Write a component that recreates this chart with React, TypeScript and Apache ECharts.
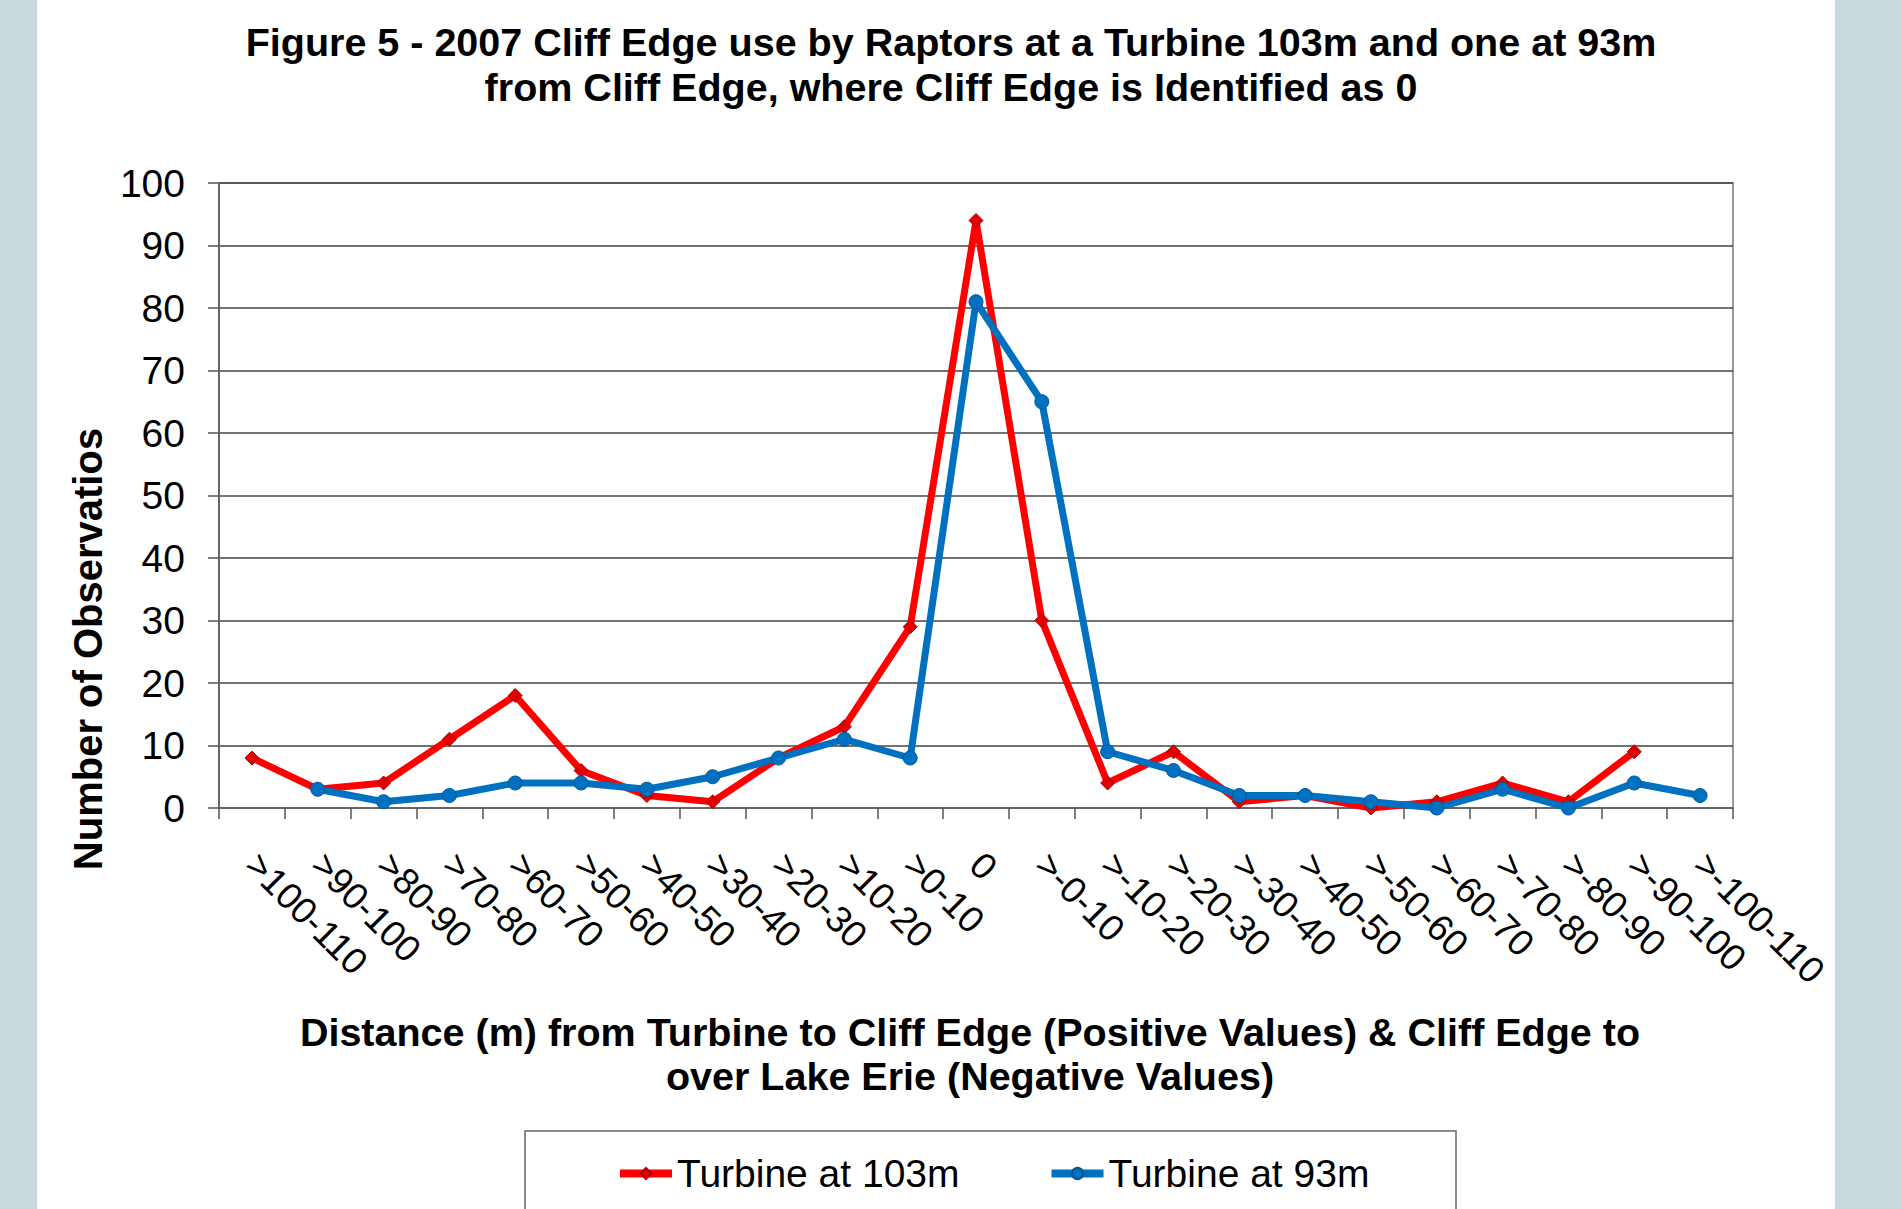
import React, { useEffect, useRef } from "react";
import * as echarts from "echarts";

const categories = [
  ">100-110", ">90-100", ">80-90", ">70-80", ">60-70", ">50-60", ">40-50", ">30-40",
  ">20-30", ">10-20", ">0-10", "0", ">-0-10", ">-10-20", ">-20-30", ">-30-40",
  ">-40-50", ">-50-60", ">-60-70", ">-70-80", ">-80-90", ">-90-100", ">-100-110",
];

const turbine103 = [8, 3, 4, 11, 18, 6, 2, 1, 8, 13, 29, 94, 30, 4, 9, 1, 2, 0, 1, 4, 1, 9, null];
const turbine93 = [null, 3, 1, 2, 4, 4, 3, 5, 8, 11, 8, 81, 65, 9, 6, 2, 2, 1, 0, 3, 0, 4, 2];

const yTicks = { min: 0, max: 100, interval: 10 };

const titleText =
  "Figure 5 - 2007 Cliff Edge use by Raptors at a Turbine 103m and one at 93m\nfrom Cliff Edge, where Cliff Edge is Identified as 0";
const xName =
  "Distance (m) from Turbine to Cliff Edge (Positive Values) & Cliff Edge to\nover Lake Erie (Negative Values)";
const yName = "Number of Observatios";
const seriesNames = ["Turbine at 103m", "Turbine at 93m"];

const FONT = "'Liberation Sans', Arial, sans-serif";
const RED = "#FF0000";
const BLUE = "#0070C0";

export default function App() {
  const ref = useRef<HTMLDivElement>(null);

  useEffect(() => {
    if (!ref.current) return;
    const chart = echarts.init(ref.current, undefined, { renderer: "svg" });
    chart.setOption({
      animation: false,
      backgroundColor: "#ffffff",
      textStyle: { fontFamily: FONT },
      title: {
        text: titleText,
        left: "center",
        top: 19,
        padding: [0, 10, 0, 0],
        textStyle: {
          fontFamily: FONT,
          fontSize: 39.5,
          fontWeight: "bold",
          color: "#000",
          lineHeight: 45,
        },
      },
      grid: {
        left: 219,
        top: 183,
        width: 1514,
        height: 625,
        show: true,
        borderColor: "#777",
        borderWidth: 1.5,
        backgroundColor: "transparent",
      },
      legend: {
        data: [
          { name: seriesNames[0], lineStyle: { width: 8, color: RED } },
          { name: seriesNames[1], lineStyle: { width: 8, color: BLUE } },
        ],
        left: 611,
        top: 1149,
        itemGap: 88,
        itemWidth: 52,
        itemHeight: 14,
        textStyle: { fontFamily: FONT, fontSize: 39, color: "#000" },
      },
      xAxis: {
        type: "category",
        data: categories,
        boundaryGap: true,
        name: xName,
        nameLocation: "middle",
        nameGap: 202,
        nameTextStyle: {
          fontFamily: FONT,
          fontSize: 39.5,
          fontWeight: "bold",
          color: "#000",
          lineHeight: 44,
          padding: [0, 12, 0, 0],
        },
        axisLine: { lineStyle: { color: "#666", width: 2 } },
        axisTick: { show: true, length: 11, lineStyle: { color: "#555", width: 1.5 } },
        axisLabel: {
          rotate: -45,
          interval: 0,
          margin: 51,
          fontFamily: FONT,
          fontSize: 37,
          color: "#000",
        },
      },
      yAxis: {
        type: "value",
        min: yTicks.min,
        max: yTicks.max,
        interval: yTicks.interval,
        axisLine: { show: true, lineStyle: { color: "#666", width: 2 } },
        axisTick: { show: true, length: 11, lineStyle: { color: "#555", width: 1.5 } },
        axisLabel: { margin: 34, fontFamily: FONT, fontSize: 39, color: "#000" },
        splitLine: { show: true, lineStyle: { color: "#444", width: 1.5 } },
      },
      graphic: [
        { type: "rect", shape: { x: 0, y: 0, width: 37, height: 1209 }, style: { fill: "#c9d8dc" }, silent: true },
        { type: "rect", shape: { x: 1835, y: 0, width: 67, height: 1209 }, style: { fill: "#c9d8dc" }, silent: true },
        {
          type: "rect",
          shape: { x: 525, y: 1131, width: 931, height: 200 },
          style: { fill: "none", stroke: "#666", lineWidth: 1.5 },
          silent: true,
        },
        {
          type: "text",
          x: 88,
          y: 649,
          rotation: Math.PI / 2,
          style: {
            text: yName,
            fontFamily: FONT,
            fontSize: 40,
            fontWeight: "bold",
            fill: "#000",
            align: "center",
            verticalAlign: "middle",
          },
          silent: true,
        },
      ],
      series: [
        {
          name: seriesNames[0],
          type: "line",
          data: turbine103,
          symbol: "diamond",
          symbolSize: 14,
          lineStyle: { color: RED, width: 7 },
          itemStyle: { color: "#E00000", borderColor: "#B00000", borderWidth: 1 },
          z: 3,
        },
        {
          name: seriesNames[1],
          type: "line",
          data: turbine93,
          symbol: "circle",
          symbolSize: 14,
          lineStyle: { color: BLUE, width: 7 },
          itemStyle: { color: BLUE, borderColor: "#005A9A", borderWidth: 1 },
          z: 4,
        },
      ],
    });
    return () => chart.dispose();
  }, []);

  return (
    <div
      ref={ref}
      style={{ position: "fixed", left: 0, top: 0, width: 1902, height: 1209 }}
    />
  );
}
